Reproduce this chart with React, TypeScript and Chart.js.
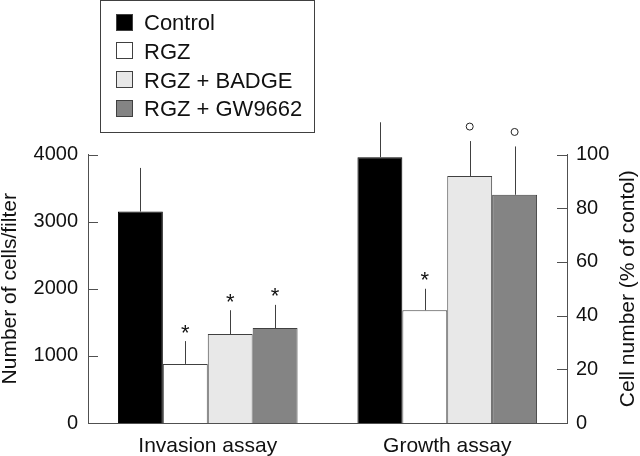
import React, { useEffect, useRef } from 'react';
import { Chart, registerables } from 'chart.js';

Chart.register(...registerables);

// ---- data ----
const groups = ['Invasion assay', 'Growth assay'];
const treatments = ['Control', 'RGZ', 'RGZ + BADGE', 'RGZ + GW9662'];
const fillColors = ['#000000', '#ffffff', '#e8e8e8', '#848484'];
const invasionMeans = [3150, 880, 1325, 1415];
const invasionErrTop = [3800, 1220, 1680, 1760];
const invasionMarks = ['', '*', '*', '*'];
const growthMeans = [99, 42, 92, 85];
const growthErrTop = [112, 50, 105, 103];
const growthMarks = ['', '*', 'o', 'o'];
const leftAxis = { min: 0, max: 4000, step: 1000 };
const rightAxis = { min: 0, max: 100, step: 20 };
const leftTitle = 'Number of cells/filter';
const rightTitle = 'Cell number (% of contol)';

const FONT = "'Liberation Sans', Arial, sans-serif";
const AXIS = '#505050';
const BORDER = '#404040';
const TEXT = '#111111';

const errorBarPlugin = {
  id: 'errorBars',
  afterDatasetsDraw(chart: any) {
    const ctx = chart.ctx;
    ctx.save();
    chart.data.datasets.forEach((ds: any, di: number) => {
      const meta = chart.getDatasetMeta(di);
      const scale = chart.scales[ds.yAxisID];
      meta.data.forEach((el: any, i: number) => {
        const v = ds.data[i];
        if (v === null || v === undefined) return;
        const top = scale.getPixelForValue(ds.errTop[i]);
        const x = Math.round(el.x) + 0.5;
        ctx.strokeStyle = BORDER;
        ctx.lineWidth = 1;
        ctx.beginPath();
        ctx.moveTo(x, el.y);
        ctx.lineTo(x, top);
        ctx.stroke();
        const mark = ds.marks[i];
        if (mark === '*') {
          ctx.fillStyle = TEXT;
          ctx.font = `22px ${FONT}`;
          ctx.textAlign = 'center';
          ctx.textBaseline = 'alphabetic';
          ctx.fillText('*', el.x, top - 1.5);
        } else if (mark === 'o') {
          ctx.strokeStyle = '#222';
          ctx.beginPath();
          ctx.arc(el.x, top - 14.5, 3.5, 0, Math.PI * 2);
          ctx.stroke();
        }
      });
    });
    ctx.restore();
  },
};

const decorPlugin = {
  id: 'decor',
  afterDraw(chart: any) {
    const ctx = chart.ctx;
    const ca = chart.chartArea;
    ctx.save();
    // inward tick marks
    ctx.strokeStyle = AXIS;
    ctx.lineWidth = 1;
    (['y', 'y2'] as const).forEach((id) => {
      const s = chart.scales[id];
      const x0 = id === 'y' ? Math.round(ca.left) : Math.round(ca.right);
      const dir = id === 'y' ? 1 : -1;
      s.ticks.forEach((_t: any, i: number) => {
        const py = Math.round(s.getPixelForTick(i)) + 0.5;
        ctx.beginPath();
        ctx.moveTo(x0, py);
        ctx.lineTo(x0 + dir * 10, py);
        ctx.stroke();
      });
    });
    // right axis title (reads bottom to top)
    ctx.fillStyle = TEXT;
    ctx.font = `21px ${FONT}`;
    ctx.textAlign = 'center';
    ctx.textBaseline = 'middle';
    ctx.save();
    ctx.translate(628, (ca.top + ca.bottom) / 2);
    ctx.rotate(-Math.PI / 2);
    ctx.fillText(rightTitle, 0, 0);
    ctx.restore();
    // legend box
    ctx.strokeStyle = BORDER;
    ctx.strokeRect(100.5, 0.5, 214, 132);
    treatments.forEach((name, i) => {
      const cy = 22 + i * 28.8;
      ctx.fillStyle = fillColors[i];
      ctx.fillRect(116, Math.round(cy - 8.5), 17, 17);
      ctx.strokeStyle = BORDER;
      ctx.strokeRect(116.5, Math.round(cy - 8.5) + 0.5, 16, 16);
      ctx.fillStyle = TEXT;
      ctx.font = `22px ${FONT}`;
      ctx.textAlign = 'left';
      ctx.textBaseline = 'alphabetic';
      ctx.fillText(name, 144, cy + 8);
    });
    ctx.restore();
  },
};

export default function App() {
  const ref = useRef<HTMLCanvasElement>(null);
  useEffect(() => {
    if (!ref.current) return;
    const datasets: any[] = [];
    treatments.forEach((t, i) => {
      const common = {
        label: t,
        stack: t,
        backgroundColor: fillColors[i],
        borderColor: i === 0 ? '#000' : BORDER,
        borderWidth: 1,
      };
      datasets.push({
        ...common,
        yAxisID: 'y',
        data: [invasionMeans[i], null],
        errTop: [invasionErrTop[i], null],
        marks: [invasionMarks[i], ''],
      });
      datasets.push({
        ...common,
        yAxisID: 'y2',
        data: [null, growthMeans[i]],
        errTop: [null, growthErrTop[i]],
        marks: ['', growthMarks[i]],
      });
    });
    const chart = new Chart(ref.current, {
      type: 'bar',
      data: { labels: groups, datasets },
      options: {
        responsive: false,
        animation: false,
        layout: { padding: { top: 154.5, left: 0, right: 0, bottom: 0 } },
        datasets: { bar: { categoryPercentage: 0.75, barPercentage: 1 } },
        plugins: { legend: { display: false }, tooltip: { enabled: false } },
        scales: {
          x: {
            type: 'category',
            grid: { display: false, drawTicks: false },
            border: { display: true, color: AXIS, width: 1 },
            ticks: { color: TEXT, font: { family: FONT, size: 21 }, padding: 11 },
            afterFit: (s: any) => { s.height = 33; },
          },
          y: {
            position: 'left',
            stacked: false,
            min: leftAxis.min,
            max: leftAxis.max,
            grid: { display: false, drawTicks: false },
            border: { display: true, color: AXIS, width: 1 },
            ticks: {
              stepSize: leftAxis.step, color: TEXT, font: { family: FONT, size: 20 }, padding: 10,
              callback: (v: any) => String(v),
            },
            title: { display: true, text: leftTitle, color: TEXT, font: { family: FONT, size: 21, lineHeight: 1 }, padding: 0 },
            afterFit: (s: any) => { s.width = 88; },
          },
          y2: {
            position: 'right',
            stacked: false,
            min: rightAxis.min,
            max: rightAxis.max,
            grid: { display: false, drawTicks: false },
            border: { display: true, color: AXIS, width: 1 },
            ticks: {
              stepSize: rightAxis.step, color: TEXT, font: { family: FONT, size: 20 }, padding: 9,
              callback: (v: any) => String(v),
            },
            afterFit: (s: any) => { s.width = 73; },
          },
        },
      } as any,
      plugins: [errorBarPlugin, decorPlugin],
    });
    return () => chart.destroy();
  }, []);
  return (
    <div style={{ position: 'absolute', left: 0, top: 0, width: 640, height: 456, background: '#fff' }}>
      <canvas ref={ref} width={640} height={456} style={{ display: 'block' }} />
    </div>
  );
}
